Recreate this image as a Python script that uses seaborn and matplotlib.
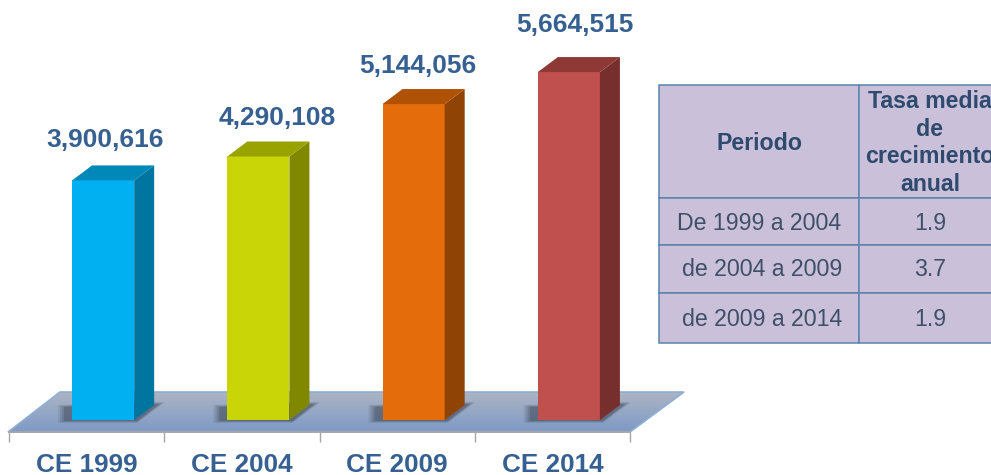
import numpy as np
import pandas as pd
import seaborn as sns
import matplotlib.pyplot as plt
from matplotlib.patches import Polygon

# Data
censos = ['CE 1999', 'CE 2004', 'CE 2009', 'CE 2014']
valores = [3900616, 4290108, 5144056, 5664515]
periodos = ['De 1999 a 2004', 'de 2004 a 2009', 'de 2009 a 2014']
tasas = ['1.9', '3.7', '1.9']
encabezados = ['Periodo', 'Tasa media\nde\ncrecimiento\nanual']

colores_frente = ['#00B0F0', '#C9D507', '#E46C0A', '#C0504D']
colores_lado = ['#0075A0', '#808800', '#8F4304', '#772F2E']
colores_tapa = ['#0088B8', '#98A300', '#AF5206', '#8F3937']

azul = '#366092'
W, H = 991, 475

sns.set_theme(style='white')
plt.rcParams['font.family'] = ['Liberation Sans', 'DejaVu Sans']

fig = plt.figure(figsize=(W / 100, H / 100), dpi=100)
ax = fig.add_axes([9 / W, 1 - 432 / H, 621 / W, 432 / H])

df = pd.DataFrame({'censo': censos, 'valor': valores})
sns.barplot(data=df, x='censo', y='valor', hue='censo', palette=colores_frente,
            saturation=1, width=0.4, legend=False, ax=ax, zorder=3)
barras = list(ax.patches)


# pixels of the picture -> data units
def px_x(p):
    return (p - 9) / 155.25 - 0.5


def px_y(p):
    return (420 - p) * 16280


dx = 20 / 155.25
dy = 15 * 16280
desplaza = 16.5 / 155.25

# floor with gradient
piso = Polygon([(px_x(8), px_y(432)), (px_x(60), px_y(392)), (px_x(684), px_y(392)), (px_x(630), px_y(432))],
               closed=True, transform=ax.transData, facecolor='none', edgecolor='#8FAFD3', linewidth=1.2,
               clip_on=False, zorder=1.5)
ax.add_patch(piso)
grad = np.linspace(0, 1, 64).reshape(-1, 1)
c0 = np.array([0xAB, 0xB4, 0xC4]) / 255
c1 = np.array([0x7E, 0x9A, 0xC6]) / 255
img = c0 + (c1 - c0) * grad[..., None]
im = ax.imshow(img, extent=[px_x(0), px_x(690), px_y(432), px_y(392)], aspect='auto', zorder=1)
im.set_clip_box(fig.bbox)
im.set_clip_path(piso)

# 3D faces
for i, bar in enumerate(barras):
    bar.set_x(bar.get_x() + desplaza)
    bar.set_edgecolor('none')
    x0, w, h = bar.get_x(), bar.get_width(), bar.get_height()
    x1 = x0 + w
    # shadow on the floor, stacked layers to look blurred
    for extra, alpha in [(6, 0.12), (4, 0.16), (2, 0.2), (0, 0.3)]:
        ax.add_patch(Polygon([(x0 - (8 + extra) / 155.25, px_y(421 + extra / 3)),
                              (x1 + 3 / 155.25, px_y(421 + extra / 3)),
                              (x1 + (25 + extra) / 155.25, px_y(404 - extra / 3)),
                              (x1, px_y(404 - extra / 3)),
                              (x0 - (8 + extra) / 155.25, px_y(407 - extra / 3))],
                             facecolor='#3E4652', edgecolor='none', alpha=alpha, zorder=2))
    ax.add_patch(Polygon([(x1, 0), (x1 + dx, dy), (x1 + dx, h + dy), (x1, h)],
                         facecolor=colores_lado[i], edgecolor='none', zorder=3, clip_on=False))
    ax.add_patch(Polygon([(x0, h), (x0 + dx, h + dy), (x1 + dx, h + dy), (x1, h)],
                         facecolor=colores_tapa[i], edgecolor='none', zorder=3, clip_on=False))

# value labels, hand placed in the original
nudge_x = [2, 19, 4, 6]
alto_y = [40, 38, 38, 47]
for i, v in enumerate(valores):
    ax.text(i + desplaza + nudge_x[i] / 155.25, v + alto_y[i] * 16280, f'{v:,}', ha='center', va='center',
            fontsize=19, fontweight='bold', color=azul, clip_on=False, zorder=5)

ax.set_xlim(-0.5, 3.5)
ax.set_ylim(px_y(432), px_y(0))
ax.set_xlabel('')
ax.set_ylabel('')
ax.set_yticks([])
sns.despine(ax=ax, left=True)
ax.spines['bottom'].set_color('#A6A6A6')
ax.set_xticks(range(4))
ax.set_xticklabels(censos, fontsize=18.8, fontweight='bold', color=azul)
ax.set_xticks(np.arange(-0.5, 4), minor=True)
ax.tick_params(axis='x', which='major', length=0, pad=15, bottom=False)
ax.tick_params(axis='x', which='minor', length=7, width=1, color='#A6A6A6', bottom=True)

# table on the right, axes in picture pixels
tx = fig.add_axes([659 / W, 1 - 343 / H, 342 / W, 258 / H])
tx.axis('off')
tx.set_xlim(0, 342)
tx.set_ylim(258, 0)
filas = [['', ''] for _ in range(4)]
tabla = tx.table(cellText=filas, cellLoc='center', colWidths=[200, 142], bbox=[0, 0, 1, 1])
tabla.auto_set_font_size(False)
altos = [113, 47, 48, 50]
for (r, c), celda in tabla.get_celld().items():
    celda.set_height(altos[r])
    celda.set_facecolor('#CBC0DA')
    celda.set_edgecolor('#5E82AE')
    celda.set_linewidth(1.1)

oscuro = '#2E4A6E'
gris = '#3D5068'
tx.text(100, 58, encabezados[0], ha='center', va='center', fontsize=16.7, fontweight='bold', color=oscuro)
tx.text(271, 58, encabezados[1], ha='center', va='center', fontsize=16.7, fontweight='bold', color=oscuro,
        linespacing=1.25)
centros = [138, 185, 235]
col_x = [100, 103, 103]
for i in range(3):
    tx.text(col_x[i], centros[i], periodos[i], ha='center', va='center', fontsize=16.7, color=gris)
    tx.text(271, centros[i], tasas[i], ha='center', va='center', fontsize=16.7, color=gris)

fig.savefig('out.png', dpi=100, facecolor='white')
plt.close()
